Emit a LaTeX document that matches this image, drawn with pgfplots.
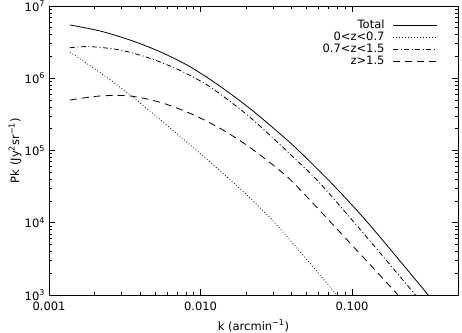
\documentclass[border=0pt]{standalone}
\usepackage{pgfplots}
\pgfplotsset{compat=1.18}
\usepackage{fontspec}
\setmainfont{DejaVu Sans}

\begin{document}
\fontsize{11.5bp}{13bp}\selectfont
\begin{tikzpicture}
\begin{axis}[
  scale only axis,
  width=409bp, height=289bp,
  xmode=log, ymode=log,
  xmin=1e-3, xmax=0.5,
  ymin=1e3, ymax=1e7,
  axis line style={line width=0.8bp},
  tick style={line width=0.6bp, black},
  tick align=inside,
  major tick length=6bp,
  minor tick length=3.5bp,
  xtick={0.001,0.01,0.1},
  xticklabels={0.001,0.010,0.100},
  ytick={1e3,1e4,1e5,1e6,1e7},
  yticklabels={10\textsuperscript{3},10\textsuperscript{4},10\textsuperscript{5},10\textsuperscript{6},10\textsuperscript{7}},
  xticklabel style={yshift=-3bp},
  every axis x label/.style={at={(axis description cs:0.5,-0.107)}, anchor=center},
  every axis y label/.style={at={(axis description cs:-0.083,0.5)}, rotate=90, anchor=center},
  xlabel={k (arcmin\textsuperscript{−1})},
  ylabel={Pk (Jy\textsuperscript{2}sr\textsuperscript{−1})},
  legend style={
    at={(1,1)}, anchor=north east, xshift=-20bp, yshift=-13bp,
    draw=none, fill=none, inner sep=0pt,
    column sep=8bp, row sep=0pt,
    nodes={inner sep=0.5bp, text height=8.5bp, text depth=2.6bp},
    cells={anchor=east},
  },
  legend plot pos=right,
  legend image code/.code={\draw[#1] (0bp,0bp) -- (44bp,0bp);},
  cycle list={{black}},
]
% total power spectrum
\addplot[black, no marks, solid, line width=0.8bp, smooth] coordinates {
  (0.001376,5.46e6) (0.002171,4.51e6) (0.003424,3.38e6) (0.005402,2.33e6)
  (0.008522,1.445e6) (0.013446,7.76e5) (0.021214,3.80e5) (0.033476,1.70e5)
  (0.045365,9.55e4) (0.0773,3.13e4) (0.1315,9.2e3) (0.318,1.0e3)
};
\addlegendentry{Total}
% 0 < z < 0.7
\addplot[black, no marks, line width=0.8bp, smooth, dash pattern=on 0.8bp off 2.2bp] coordinates {
  (0.001376,2.29e6) (0.002171,1.20e6) (0.003424,5.89e5) (0.005402,2.69e5)
  (0.008522,1.20e5) (0.013446,5.25e4) (0.019187,2.69e4) (0.0295,1.11e4)
  (0.045365,3.98e3) (0.0793,1.0e3)
};
\addlegendentry{0<z<0.7}
% 0.7 < z < 1.5
\addplot[black, no marks, line width=0.8bp, smooth, dash pattern=on 5bp off 2.5bp on 1bp off 2.5bp] coordinates {
  (0.001376,2.65e6) (0.001865,2.74e6) (0.002941,2.46e6) (0.004642,1.89e6)
  (0.007322,1.282e6) (0.011552,7.59e5) (0.021214,2.88e5) (0.045365,6.61e4)
  (0.0644,3.16e4) (0.125,6.31e3) (0.262,1.0e3)
};
\addlegendentry{0.7<z<1.5}
% z > 1.5
\addplot[black, no marks, line width=0.8bp, smooth, dash pattern=on 7bp off 5bp] coordinates {
  (0.001376,5.0e5) (0.002171,5.68e5) (0.003424,5.68e5) (0.005402,4.65e5)
  (0.008522,3.27e5) (0.013446,2.03e5) (0.021214,1.1e5) (0.033476,5.25e4)
  (0.045365,2.88e4) (0.125,2.95e3) (0.201,1.0e3)
};
\addlegendentry{z>1.5}
\end{axis}
\pgfresetboundingbox
\path[use as bounding box] ([shift={(-49bp,-38bp)}]current axis.south west)
  rectangle ([shift={(4bp,6bp)}]current axis.north east);
\end{tikzpicture}
\end{document}
